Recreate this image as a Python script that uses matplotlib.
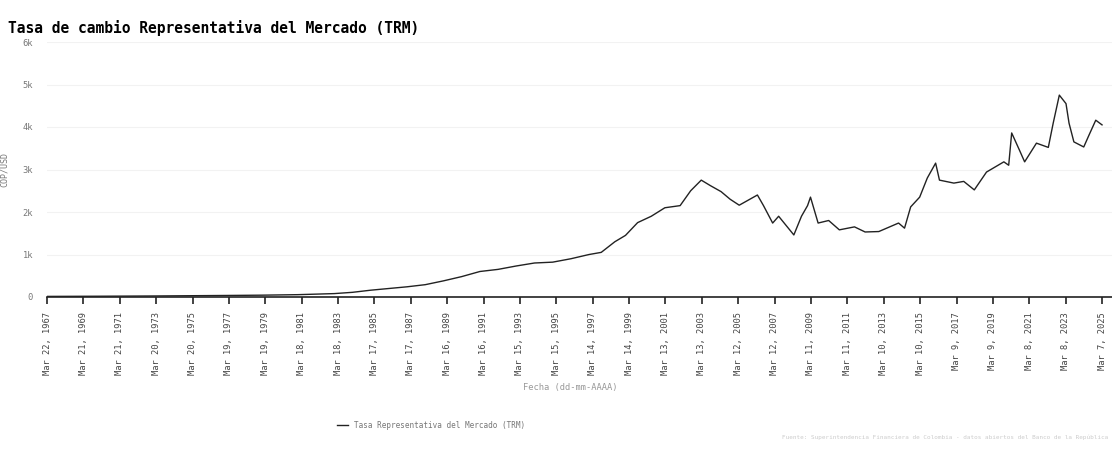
import matplotlib
matplotlib.use("Agg")
import matplotlib.pyplot as plt
import numpy as np
import pandas as pd

# puntos (fecha, COP por USD)
fechas = ["1967-03-22", "1970-01-01", "1973-01-01", "1975-01-01", "1977-01-01",
          "1979-01-01", "1981-01-01", "1983-01-01", "1984-01-01", "1985-01-01",
          "1986-01-01", "1987-01-01", "1988-01-01", "1989-01-01", "1990-01-01",
          "1991-01-01", "1992-01-01", "1993-01-01", "1994-01-01", "1995-01-01",
          "1996-01-01", "1997-01-01", "1997-09-01", "1998-06-01", "1999-01-01",
          "1999-09-01", "2000-06-01", "2001-03-01", "2002-01-01", "2002-08-01",
          "2003-03-01", "2003-09-01", "2004-04-01", "2004-10-01", "2005-04-01",
          "2006-04-01", "2006-08-01", "2007-02-01", "2007-06-01", "2008-04-01",
          "2008-09-01", "2009-01-01", "2009-03-01", "2009-08-01", "2010-03-01",
          "2010-10-01", "2011-08-01", "2012-03-01", "2012-12-01", "2014-01-01",
          "2014-05-01", "2014-09-01", "2015-03-01", "2015-08-01", "2016-01-15",
          "2016-04-01", "2017-01-15", "2017-08-01", "2018-03-01", "2018-11-01",
          "2019-10-15", "2020-01-20", "2020-03-20", "2020-08-25", "2020-12-05",
          "2021-07-30", "2022-03-25", "2022-07-01", "2022-11-01", "2023-03-15",
          "2023-05-15", "2023-08-20", "2024-03-05", "2024-06-15", "2024-11-01",
          "2025-03-07"]
trm = [14, 18, 24, 30, 36,
       43, 55, 80, 110, 160,
       200, 240, 290, 380, 480,
       600, 650, 730, 800, 820,
       900, 1000, 1050, 1300, 1450,
       1750, 1900, 2100, 2150, 2500,
       2750, 2620, 2480, 2300, 2160,
       2400, 2150, 1740, 1900, 1460,
       1900, 2150, 2350, 1740, 1800,
       1580, 1650, 1530, 1540, 1740,
       1620, 2120, 2350, 2800, 3150,
       2750, 2680, 2720, 2520, 2940,
       3180, 3100, 3860, 3450, 3180,
       3620, 3520, 4090, 4750, 4550,
       4090, 3650, 3530, 3800, 4160,
       4050]
tick_ini = "1967-03-22"
tick_paso_dias = 730
n_ticks = 30

fechas = pd.to_datetime(fechas)
ticks = [pd.Timestamp(tick_ini) + pd.Timedelta(days=tick_paso_dias * i) for i in range(n_ticks)]
tick_lbls = [f"{t:%b} {t.day}, {t.year}" for t in ticks]

mono = "DejaVu Sans Mono"
W, H = 1112, 453
fig = plt.figure(figsize=(W / 100, H / 100), dpi=100)
ax = fig.add_axes([47 / W, 1 - 297 / H, (1112 - 47) / W, (297 - 42) / H])

ax.plot(fechas, trm, color="#222222", lw=1.0)

ax.set_xlim(ticks[0], ticks[-1] + pd.Timedelta(days=200))
ax.set_ylim(0, 6000)
ax.set_xticks(ticks)
ax.set_xticklabels(tick_lbls, rotation=90, family=mono, fontsize=6.3, color="#444444")
ax.set_yticks([0, 1000, 2000, 3000, 4000, 5000, 6000])
ax.set_yticklabels(["0", "1k", "2k", "3k", "4k", "5k", "6k"], family=mono, fontsize=6.3, color="#777777")
ax.tick_params(axis="y", length=0, pad=10)
ax.tick_params(axis="x", length=5, width=1.2, color="#222222", pad=6)
for s in ["top", "right", "left"]:
    ax.spines[s].set_visible(False)
ax.spines["bottom"].set_color("#222222")
ax.spines["bottom"].set_linewidth(1.2)
ax.grid(axis="y", color="#f2f2f2", lw=0.8)
ax.set_axisbelow(True)

ax.set_ylabel("COP/USD", family=mono, fontsize=6, color="#777777", labelpad=10)
ax.set_xlabel("Fecha (dd-mm-AAAA)", family=mono, fontsize=6.3, color="#999999", labelpad=4)
ax.xaxis.set_label_coords((570 - 47) / (1112 - 47), -(383 - 297) / (297 - 42))

fig.text(8 / W, 1 - 28 / H, "Tasa de cambio Representativa del Mercado (TRM)",
         family=mono, fontsize=10.5, fontweight="bold", va="center", ha="left")

fig.legend(handles=ax.get_lines(), labels=["Tasa Representativa del Mercado (TRM)"],
           loc="center left", bbox_to_anchor=(330 / W, 1 - 425 / H), frameon=False,
           prop={"family": mono, "size": 5.5}, labelcolor="#777777", handlelength=1.5)

fig.text(1108 / W, 1 - 437 / H,
         "Fuente: Superintendencia Financiera de Colombia - datos abiertos del Banco de la República",
         family=mono, fontsize=4.3, color="#cccccc", ha="right", va="center")

fig.savefig("out.png", dpi=100)
